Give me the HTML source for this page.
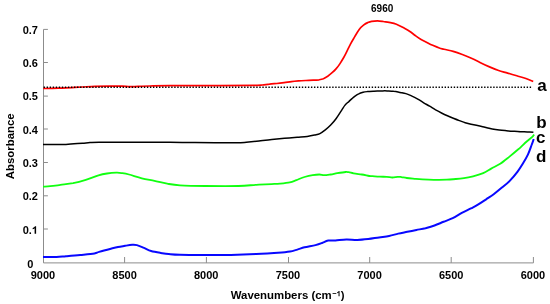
<!DOCTYPE html>
<html><head><meta charset="utf-8"><style>
html,body{margin:0;padding:0;background:#fff;width:550px;height:304px;overflow:hidden}
svg{display:block}
.t{font-family:"Liberation Sans",sans-serif;font-weight:bold;font-size:11px;fill:#000}
.T{font-family:"Liberation Sans",sans-serif;font-weight:bold;font-size:11.4px;fill:#000}
.s{font-family:"Liberation Sans",sans-serif;font-weight:bold;font-size:10px;fill:#000}
.L{font-family:"Liberation Sans",sans-serif;font-weight:bold;font-size:17px;fill:#000}
</style></head><body>
<svg style="will-change:transform" width="550" height="304" viewBox="0 0 550 304">
<path d="M43.5 29.4 V262.9 H533.4 V257" fill="none" stroke="#8c8c8c" stroke-width="1"/>
<path d="M43.5 229.0 H47.9 M43.5 195.8 H47.9 M43.5 162.5 H47.9 M43.5 129.0 H47.9 M43.5 96.1 H47.9 M43.5 62.5 H47.9 M43.5 29.4 H47.9 M124.6 262.9 V257 M206.4 262.9 V257 M288.5 262.9 V257 M369.7 262.9 V257 M451.2 262.9 V257" stroke="#8c8c8c" stroke-width="1" fill="none"/>
<text id="yl0" x="30.3" y="268.0" class="t" text-anchor="middle">0</text>
<text id="yl1" x="30.3" y="233.7" class="t" text-anchor="middle">0.&#8199;</text>
<text id="yl2" x="30.3" y="200.4" class="t" text-anchor="middle">0.2</text>
<text id="yl3" x="30.3" y="167.0" class="t" text-anchor="middle">0.3</text>
<text id="yl4" x="30.3" y="133.7" class="t" text-anchor="middle">0.4</text>
<text id="yl5" x="30.3" y="100.3" class="t" text-anchor="middle">0.5</text>
<text id="yl6" x="30.3" y="67.0" class="t" text-anchor="middle">0.6</text>
<text id="yl7" x="30.3" y="33.6" class="t" text-anchor="middle">0.7</text>
<text x="42.9" y="279" class="t" text-anchor="middle">9000</text>
<text x="124.6" y="279" class="t" text-anchor="middle">8500</text>
<text x="206.2" y="279" class="t" text-anchor="middle">8000</text>
<text x="287.9" y="279" class="t" text-anchor="middle">7500</text>
<text x="369.6" y="279" class="t" text-anchor="middle">7000</text>
<text x="451.2" y="279" class="t" text-anchor="middle">6500</text>
<text x="532.9" y="279" class="t" text-anchor="middle">6000</text>
<path d="M43.2 88.5 C44.7 88.5 48.9 88.5 52.0 88.4 C55.1 88.3 58.7 88.2 62.0 88.1 C65.3 88.0 68.7 87.8 72.0 87.6 C75.3 87.4 78.2 87.2 82.0 87.0 C85.8 86.8 90.3 86.5 95.0 86.3 C99.7 86.1 105.5 86.1 110.0 86.1 C114.5 86.1 118.7 86.0 122.0 86.1 C125.3 86.2 127.3 86.7 130.0 86.7 C132.7 86.8 134.7 86.5 138.0 86.4 C141.3 86.3 144.7 86.1 150.0 86.0 C155.3 85.9 158.3 85.8 170.0 85.7 C181.7 85.6 205.8 85.7 220.0 85.6 C234.2 85.5 247.9 85.4 255.0 85.3 C262.1 85.2 259.9 85.2 262.3 85.0 C264.7 84.8 267.1 84.3 269.5 84.1 C271.9 83.8 274.4 83.7 276.8 83.5 C279.2 83.3 281.7 83.0 284.1 82.7 C286.5 82.4 289.0 81.9 291.4 81.6 C293.8 81.3 296.2 81.1 298.6 80.9 C301.0 80.7 303.5 80.6 305.9 80.5 C308.3 80.4 311.0 80.3 313.2 80.2 C315.4 80.1 317.3 80.0 319.0 79.8 C320.7 79.5 321.9 79.3 323.4 78.7 C324.8 78.1 326.2 77.2 327.7 76.2 C329.1 75.2 330.7 73.9 332.1 72.7 C333.5 71.5 334.7 70.4 336.0 68.9 C337.3 67.4 338.7 65.6 340.0 63.6 C341.3 61.6 342.9 58.9 344.0 57.0 C345.1 55.1 345.3 54.6 346.4 52.4 C347.5 50.2 349.2 46.5 350.6 43.8 C352.0 41.1 353.5 38.8 354.9 36.4 C356.3 34.0 357.8 31.4 359.2 29.5 C360.6 27.6 362.1 26.3 363.5 25.2 C364.9 24.1 366.3 23.2 367.7 22.6 C369.1 22.0 370.0 21.6 371.6 21.3 C373.2 21.0 375.6 20.8 377.5 20.8 C379.4 20.8 381.4 21.2 383.3 21.5 C385.2 21.8 386.9 21.9 389.1 22.3 C391.3 22.8 394.0 23.3 396.4 24.2 C398.8 25.1 401.4 26.6 403.6 27.8 C405.8 29.0 407.6 29.9 409.5 31.2 C411.4 32.5 413.4 34.1 415.3 35.5 C417.2 36.9 419.2 38.4 421.1 39.5 C423.0 40.6 425.0 41.4 426.9 42.4 C428.8 43.4 430.6 44.4 432.7 45.3 C434.8 46.2 437.4 47.3 439.3 48.0 C441.2 48.7 441.8 48.7 444.1 49.3 C446.4 49.9 450.2 50.5 453.2 51.4 C456.2 52.3 459.3 53.4 462.3 54.5 C465.3 55.6 468.4 56.8 471.4 58.2 C474.4 59.6 477.5 61.2 480.5 62.7 C483.5 64.2 486.5 65.6 489.5 66.9 C492.5 68.2 495.6 69.5 498.6 70.5 C501.6 71.5 504.7 72.2 507.7 73.1 C510.7 74.0 513.8 74.9 516.8 75.8 C519.8 76.7 523.2 77.5 525.9 78.5 C528.6 79.5 532.0 81.0 533.2 81.5" fill="none" stroke="#ff0000" stroke-width="1.7" stroke-linejoin="round"/>
<path d="M43.0 144.6 C45.0 144.6 51.2 144.6 55.0 144.6 C58.8 144.6 62.8 144.6 66.0 144.5 C69.2 144.4 71.2 144.0 74.0 143.8 C76.8 143.6 79.8 143.4 82.5 143.2 C85.2 143.0 87.2 142.8 90.0 142.6 C92.8 142.4 92.3 142.3 99.0 142.2 C105.7 142.1 118.2 142.2 130.0 142.2 C141.8 142.2 159.2 142.1 170.0 142.2 C180.8 142.3 183.7 142.5 195.0 142.6 C206.3 142.7 229.4 142.8 238.0 142.7 C246.6 142.6 242.8 142.6 246.3 142.3 C249.8 142.0 254.8 141.5 259.0 141.0 C263.2 140.5 267.6 139.9 271.8 139.5 C276.1 139.1 280.3 138.7 284.5 138.3 C288.7 137.9 293.4 137.5 297.2 137.2 C301.0 136.9 304.3 136.8 307.2 136.4 C310.1 136.1 312.4 135.6 314.5 135.1 C316.6 134.6 318.1 134.5 319.9 133.6 C321.7 132.7 323.5 131.3 325.3 129.9 C327.1 128.5 328.9 127.0 330.7 125.1 C332.5 123.2 334.4 121.0 336.2 118.5 C338.0 116.0 340.1 112.6 341.6 110.3 C343.1 108.0 344.0 106.4 345.2 104.9 C346.4 103.5 347.7 102.6 348.8 101.6 C349.9 100.5 351.1 99.4 352.0 98.6 C352.9 97.8 353.3 97.4 354.4 96.6 C355.5 95.8 357.2 94.6 358.7 93.9 C360.1 93.2 361.7 92.7 363.1 92.3 C364.6 91.9 365.6 91.8 367.4 91.6 C369.2 91.4 371.8 91.3 374.0 91.2 C376.2 91.1 378.3 91.0 380.5 90.9 C382.7 90.9 384.9 90.8 387.1 90.9 C389.3 91.0 391.4 91.0 393.6 91.3 C395.8 91.5 398.1 92.0 400.2 92.4 C402.2 92.8 403.9 93.0 405.9 93.6 C407.8 94.2 409.9 95.2 411.9 96.1 C413.9 97.0 415.8 98.0 417.8 99.1 C419.8 100.2 421.7 101.6 423.7 102.8 C425.7 104.0 427.6 105.0 429.6 106.2 C431.6 107.4 433.6 108.8 435.6 109.9 C437.6 111.0 439.5 112.0 441.5 113.0 C443.5 114.0 445.4 114.9 447.4 115.8 C449.4 116.7 451.3 117.5 453.3 118.3 C455.3 119.1 457.3 119.9 459.3 120.6 C461.3 121.3 463.2 122.1 465.2 122.7 C467.2 123.3 469.2 123.8 471.1 124.2 C473.0 124.6 474.5 124.9 476.4 125.3 C478.3 125.7 480.6 126.2 482.7 126.7 C484.8 127.2 487.0 127.8 489.1 128.3 C491.2 128.8 493.4 129.2 495.5 129.5 C497.6 129.8 499.7 130.1 501.8 130.3 C503.9 130.5 506.1 130.7 508.2 130.9 C510.3 131.1 512.4 131.2 514.5 131.3 C516.6 131.4 518.8 131.6 520.9 131.7 C523.0 131.8 525.2 131.8 527.3 131.9 C529.4 132.0 532.4 132.1 533.4 132.2" fill="none" stroke="#000" stroke-width="1.5" stroke-linejoin="round"/>
<path d="M43.0 186.7 C44.2 186.6 47.3 186.5 50.2 186.2 C53.1 185.9 56.6 185.4 60.4 184.9 C64.2 184.4 68.9 184.0 73.1 183.2 C77.3 182.3 81.6 181.1 85.8 179.8 C90.0 178.5 95.0 176.4 98.5 175.3 C102.0 174.2 104.0 173.9 107.0 173.5 C110.0 173.1 113.8 172.8 116.3 172.7 C118.8 172.6 119.9 172.8 122.0 173.1 C124.1 173.4 125.7 173.6 129.0 174.5 C132.3 175.4 137.6 177.2 141.8 178.3 C146.1 179.4 150.3 180.0 154.5 180.9 C158.7 181.8 162.9 183.0 167.2 183.7 C171.4 184.4 173.6 184.9 180.0 185.3 C186.4 185.7 195.7 185.9 205.4 186.0 C215.2 186.1 230.0 186.2 238.5 186.0 C247.0 185.8 250.8 185.1 256.3 184.8 C261.8 184.5 267.7 184.3 271.6 184.1 C275.6 183.9 277.0 183.9 280.0 183.6 C283.0 183.3 287.1 182.9 289.8 182.3 C292.5 181.7 293.9 181.0 296.4 180.1 C298.8 179.2 301.8 177.8 304.5 177.0 C307.2 176.2 310.2 175.5 312.7 175.1 C315.2 174.7 317.4 174.5 319.3 174.5 C321.2 174.5 322.3 175.2 324.2 175.2 C326.1 175.2 328.5 174.8 330.7 174.5 C332.9 174.2 334.8 173.6 337.3 173.2 C339.8 172.8 343.6 172.2 345.5 172.0 C347.4 171.8 347.3 172.0 348.7 172.2 C350.1 172.4 351.4 172.9 353.6 173.3 C355.8 173.7 359.2 174.1 361.8 174.5 C364.4 174.9 367.4 175.7 369.2 176.0 C370.9 176.3 370.6 176.1 372.3 176.2 C374.0 176.3 377.1 176.6 379.5 176.7 C381.9 176.8 384.7 176.7 386.8 176.8 C388.9 176.9 390.5 177.5 392.3 177.5 C394.1 177.5 396.2 176.9 397.7 176.8 C399.2 176.7 399.9 176.9 401.4 177.1 C402.9 177.3 404.4 177.7 406.8 178.0 C409.2 178.3 412.3 178.5 415.9 178.8 C419.5 179.1 423.5 179.4 428.6 179.6 C433.8 179.8 442.2 179.8 446.8 179.7 C451.4 179.6 453.0 179.2 455.9 179.0 C458.8 178.8 461.1 178.6 464.0 178.2 C466.9 177.8 469.9 177.2 473.1 176.4 C476.3 175.6 480.2 174.5 483.2 173.2 C486.2 171.9 488.4 170.2 491.2 168.6 C494.0 167.0 497.1 165.8 500.2 163.8 C503.2 161.8 506.5 159.0 509.5 156.6 C512.5 154.2 516.1 151.2 518.3 149.3 C520.5 147.4 521.1 146.7 522.6 145.3 C524.1 143.9 525.6 142.5 527.3 141.0 C529.0 139.5 531.7 137.4 532.8 136.3 C533.9 135.2 533.8 134.9 534.0 134.6" fill="none" stroke="#10ff10" stroke-width="1.8" stroke-linejoin="round"/>
<path d="M43.0 257.0 C45.2 257.0 52.7 257.0 56.5 256.9 C60.3 256.8 62.0 256.5 66.0 256.2 C70.0 255.9 75.5 255.5 80.2 255.0 C84.9 254.5 91.2 253.9 94.4 253.4 C97.6 252.9 96.3 252.7 99.1 251.9 C101.8 251.1 107.8 249.5 110.9 248.7 C114.1 247.9 115.6 247.5 118.0 247.0 C120.4 246.5 122.7 246.2 125.1 245.8 C127.5 245.4 130.2 244.9 132.2 244.8 C134.2 244.7 134.9 244.6 136.9 245.1 C138.9 245.6 141.6 246.9 144.0 247.9 C146.4 248.9 148.3 250.2 151.1 251.0 C153.9 251.8 157.6 252.4 160.6 252.9 C163.6 253.4 165.6 253.8 168.8 254.1 C172.0 254.4 174.0 254.7 180.0 254.8 C186.0 255.0 196.5 255.0 205.0 255.0 C213.5 255.0 222.3 255.1 230.9 254.9 C239.5 254.7 247.8 254.4 256.3 254.0 C264.8 253.6 276.2 252.8 281.8 252.4 C287.4 252.0 287.4 252.1 290.0 251.6 C292.6 251.1 294.9 250.3 297.3 249.6 C299.7 248.9 301.5 248.1 304.5 247.3 C307.5 246.6 312.6 245.8 315.5 245.1 C318.4 244.4 319.9 243.8 322.0 243.0 C324.1 242.2 325.9 241.0 328.2 240.6 C330.4 240.2 332.5 240.6 335.5 240.4 C338.5 240.2 342.8 239.6 346.4 239.5 C350.0 239.4 353.7 240.1 357.3 240.0 C360.9 239.9 364.6 239.5 368.2 239.1 C371.8 238.7 375.6 237.9 379.1 237.4 C382.6 236.9 385.9 236.6 389.1 236.0 C392.3 235.4 395.2 234.3 398.2 233.6 C401.2 232.9 404.3 232.4 407.3 231.8 C410.3 231.2 413.4 230.6 416.4 230.0 C419.4 229.4 422.5 228.9 425.5 228.2 C428.5 227.4 431.5 226.6 434.5 225.5 C437.5 224.4 440.6 223.0 443.6 221.8 C446.6 220.6 449.7 219.7 452.7 218.2 C455.7 216.7 458.8 214.5 461.8 212.9 C464.8 211.3 468.2 209.8 470.9 208.4 C473.6 207.0 475.4 206.2 477.9 204.7 C480.4 203.2 483.2 201.3 485.8 199.6 C488.4 197.8 491.1 196.2 493.7 194.2 C496.3 192.2 499.0 190.0 501.6 187.8 C504.2 185.6 506.9 183.8 509.5 181.1 C512.1 178.4 515.2 174.7 517.4 171.8 C519.6 169.0 520.9 166.8 522.6 164.0 C524.4 161.2 526.4 157.9 527.9 154.7 C529.4 151.4 530.8 147.1 531.8 144.5 C532.8 141.9 533.4 139.9 533.7 139.0" fill="none" stroke="#0808ff" stroke-width="2" stroke-linejoin="round"/>
<line x1="43.6" y1="87.2" x2="531.5" y2="87.2" stroke="#000" stroke-width="1.5" stroke-dasharray="1.4 1.638"/>
<path transform="translate(31.82 233.7) scale(0.005371 -0.005371)" d="M799 0L518 0L518 1018C415 925 295 857 157 813L157 1058C230 1081 309 1124 395 1189C481 1253 540 1327 572 1409L799 1409Z" fill="#000"/>
<path transform="translate(336.63 296.2) scale(0.003662 -0.003662)" d="M799 0L518 0L518 1018C415 925 295 857 157 813L157 1058C230 1081 309 1124 395 1189C481 1253 540 1327 572 1409L799 1409Z" fill="#000"/>
<text x="537.3" y="90.6" class="L">a</text>
<text x="536.3" y="127.6" class="L">b</text>
<text x="536" y="142.7" class="L">c</text>
<text x="536" y="161.9" class="L">d</text>
<text x="382.2" y="12.1" class="s" text-anchor="middle">6960</text>
<text id="xt" x="287.7" y="298.8" class="T" text-anchor="middle">Wavenumbers (cm<tspan font-size="7.5" dx="0.6" dy="-2.6">&#8722;&#8199;</tspan><tspan dy="2.6">)</tspan></text>
<text transform="translate(14.2 146.3) rotate(-90)" class="T" text-anchor="middle">Absorbance</text>
</svg>
</body></html>
